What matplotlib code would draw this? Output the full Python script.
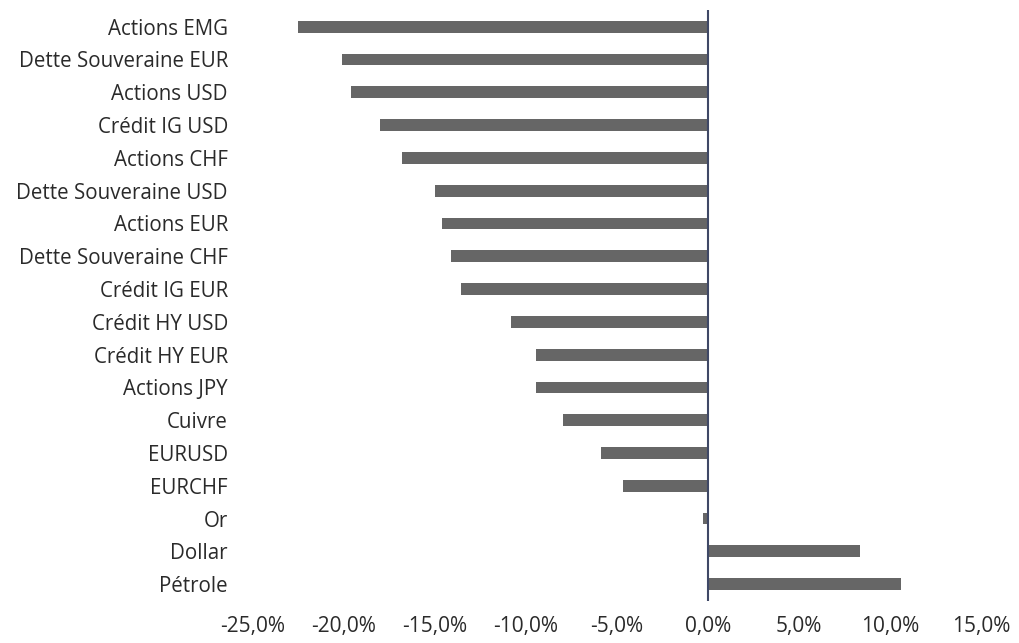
import matplotlib
matplotlib.use('Agg')
import matplotlib.pyplot as plt
from matplotlib.ticker import FuncFormatter

categories = ['Actions EMG', 'Dette Souveraine EUR', 'Actions USD', 'Crédit IG USD',
              'Actions CHF', 'Dette Souveraine USD', 'Actions EUR', 'Dette Souveraine CHF',
              'Crédit IG EUR', 'Crédit HY USD', 'Crédit HY EUR', 'Actions JPY', 'Cuivre',
              'EURUSD', 'EURCHF', 'Or', 'Dollar', 'Pétrole']
perf = [-22.5, -20.1, -19.6, -18.0, -16.8, -15.0, -14.6, -14.1, -13.55, -10.85,
        -9.45, -9.45, -7.95, -5.9, -4.65, -0.3, 8.35, 10.6]
xticks = [-25, -20, -15, -10, -5, 0, 5, 10, 15]

plt.rcParams['font.family'] = ['Open Sans', 'DejaVu Sans']

fig = plt.figure(figsize=(10.2, 6.43), dpi=100)
ax = fig.add_axes([0.248, 0.066, 0.714, 0.918])

ypos = list(range(len(categories)))
ax.barh(ypos, perf, height=0.36, color='#666666', zorder=2)
ax.axvline(0, color='#3f4866', lw=1.5, zorder=3)

ax.set_ylim(len(categories) - 0.5, -0.5)
ax.set_yticks(ypos)
ax.set_yticklabels(categories, fontsize=14.8, color='#2a2a2a')
ax.set_xlim(-25, 15)
ax.set_xticks(xticks)
ax.xaxis.set_major_formatter(FuncFormatter(lambda v, p: ('%.1f%%' % v).replace('.', ',')))
ax.tick_params(axis='x', length=0, pad=11, labelsize=15, labelcolor='#2a2a2a')
ax.tick_params(axis='y', length=0, pad=18)
for s in ax.spines.values():
    s.set_visible(False)

fig.savefig('out.png', dpi=100)
